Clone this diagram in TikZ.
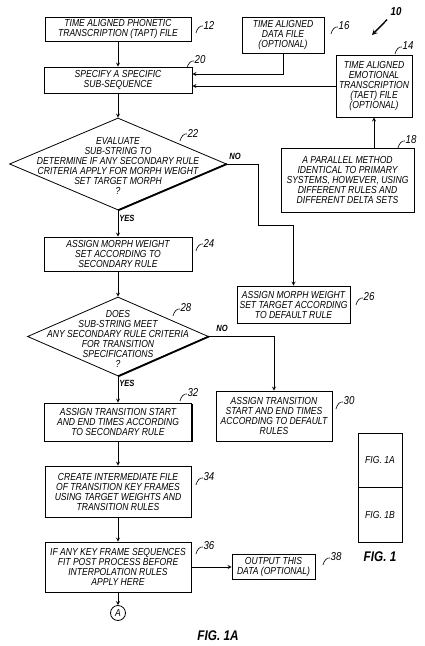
\documentclass[tikz,border=0pt]{standalone}
\usepackage{fontspec}
\setmainfont{Liberation Sans}[FakeStretch=0.84]
\usetikzlibrary{shapes.geometric,shadows}
\begin{document}
\begin{tikzpicture}[x=1pt,y=-1pt,>=stealth,
        font=\itshape\fontsize{10.2}{10}\selectfont,
        boite/.style={draw,fill=white,line width=0.8pt,align=center,inner sep=1pt,
            drop shadow={shadow xshift=1.2pt,shadow yshift=-1.2pt,opacity=1,fill=black}},
        losange/.style={draw,diamond,fill=white,line width=0.8pt,inner sep=0pt},
        reponse/.style={font=\bfseries\itshape\fontsize{9}{9}\selectfont,inner sep=1pt},
        numero/.style={font=\itshape\fontsize{11.5}{11.5}\selectfont,inner sep=0.5pt},
        titre/.style={font=\bfseries\itshape\fontsize{14}{14}\selectfont}]
    \useasboundingbox (0,0) rectangle (424,646);

    % colonne principale
    \node[boite,minimum width=146,minimum height=24] (b12) at (118,29)
        {TIME ALIGNED PHONETIC\\TRANSCRIPTION (TAPT) FILE};
    \node[boite,minimum width=148,minimum height=26] (b20) at (118,80)
        {SPECIFY A SPECIFIC\\SUB-SEQUENCE};
    \node[losange,minimum width=217,minimum height=92] (d22) at (118,164) {};
    \node[align=center] (t22) at (118,166)
        {EVALUATE\\SUB-STRING TO\\DETERMINE IF ANY SECONDARY RULE\\CRITERIA APPLY FOR MORPH WEIGHT\\SET TARGET MORPH\\?};
    \node[boite,minimum width=148,minimum height=34] (b24) at (118,254)
        {ASSIGN MORPH WEIGHT\\SET ACCORDING TO\\SECONDARY RULE};
    \node[losange,minimum width=181,minimum height=79] (d28) at (118,336.5) {};
    \node[align=center] (t28) at (118,339)
        {DOES\\SUB-STRING MEET\\ANY SECONDARY RULE CRITERIA\\FOR TRANSITION\\SPECIFICATIONS\\?};
    \node[boite,minimum width=147,minimum height=38] (b32) at (118,422)
        {ASSIGN TRANSITION START\\AND END TIMES ACCORDING\\TO SECONDARY RULE};
    \node[boite,minimum width=146,minimum height=51] (b34) at (118,491.5)
        {CREATE INTERMEDIATE FILE\\OF TRANSITION KEY FRAMES\\USING TARGET WEIGHTS AND\\TRANSITION RULES};
    \node[boite,minimum width=146,minimum height=50] (b36) at (118,567)
        {IF ANY KEY FRAME SEQUENCES\\FIT POST PROCESS BEFORE\\INTERPOLATION RULES\\APPLY HERE};
    \node[draw,circle,line width=0.8pt,minimum size=15,inner sep=0pt] (cA) at (118,613) {A};

    % branche de droite
    \node[boite,minimum width=82,minimum height=36] (b16) at (283,35)
        {TIME ALIGNED\\DATA FILE\\(OPTIONAL)};
    \node[boite,minimum width=76,minimum height=62] (b14) at (374,86)
        {TIME ALIGNED\\EMOTIONAL\\TRANSCRIPTION\\(TAET) FILE\\(OPTIONAL)};
    \node[boite,minimum width=133,minimum height=64] (b18) at (347.5,180)
        {A PARALLEL METHOD\\IDENTICAL TO PRIMARY\\SYSTEMS, HOWEVER, USING\\DIFFERENT RULES AND\\DIFFERENT DELTA SETS};
    \node[boite,minimum width=113,minimum height=37] (b26) at (293.5,304.5)
        {ASSIGN MORPH WEIGHT\\SET TARGET ACCORDING\\TO DEFAULT RULE};
    \node[boite,minimum width=116,minimum height=50] (b30) at (274,416)
        {ASSIGN TRANSITION\\START AND END TIMES\\ACCORDING TO DEFAULT\\RULES};
    \node[boite,minimum width=83,minimum height=25] (b38) at (273.5,566.5)
        {OUTPUT THIS\\DATA (OPTIONAL)};

    % bords epais des losanges
    \draw[line width=1.8pt] (d22.east) -- (d22.south);
    \draw[line width=1.8pt] (d28.east) -- (d28.south);

    % fleches
    \begin{scope}[line width=0.8pt]
        \draw[->] (b12) -- (b20);
        \draw[->] (b16.south) |- ([yshift=6pt]b20.east);
        \draw[->] (b14.west) -- (b14.west -| b20.east);
        \draw[->] (b18.north -| b14.south) -- (b14.south);
        \draw[->] (b20) -- (d22);
        \draw[->] (d22.east) -| (258,225) -| (b26.north);
        \draw[->] (d22.south) -- (b24.north) node[reponse,pos=0.3,right] {YES};
        \draw[->] (b24) -- (d28);
        \draw[->] (d28.east) -| (b30.north);
        \draw[->] (d28.south) -- (b32.north) node[reponse,pos=0.25,right] {YES};
        \draw[->] (b32) -- (b34);
        \draw[->] (b34) -- (b36);
        \draw[->] (b36.east) -- (b36.east -| b38.west);
        \draw[->] (b36) -- (cA);
    \end{scope}
    \node[reponse] (non22) at (235,156) {NO};
    \node[reponse] (non28) at (222,328) {NO};

    % numeros de reference
    \foreach \n/\px/\py in {12/209/25,16/344/26,14/408/46,20/200/60,22/193/133,18/411/140,
            24/209/243,26/369/297,28/186/308,30/349/401,32/193/393,34/209/477,36/209/546,38/336/557}{
        \node[numero] (r\n) at (\px,\py) {\n};
        \draw[line width=0.6pt] (r\n.west) ++(0,1) .. controls +(-3,-1) and +(1,-4) .. ++(-7,7);
    }
    \node[font=\bfseries\itshape\fontsize{11.5}{11.5}\selectfont] (n10) at (396,12) {10};
    \coordinate (c10) at (372,35);
    \draw[->,line width=1.4pt] (n10.south west) -- (c10);

    % vignette des figures
    \node[draw,line width=0.8pt,minimum width=44,minimum height=54] (f1a) at (380,460) {FIG. 1A};
    \node[draw,line width=0.8pt,minimum width=44,minimum height=55] (f1b) at (380,514.5) {FIG. 1B};
    \node[titre] (fig1) at (380,557) {FIG. 1};
    \node[titre] (fig1a) at (218,636) {FIG. 1A};
\end{tikzpicture}
\end{document}
